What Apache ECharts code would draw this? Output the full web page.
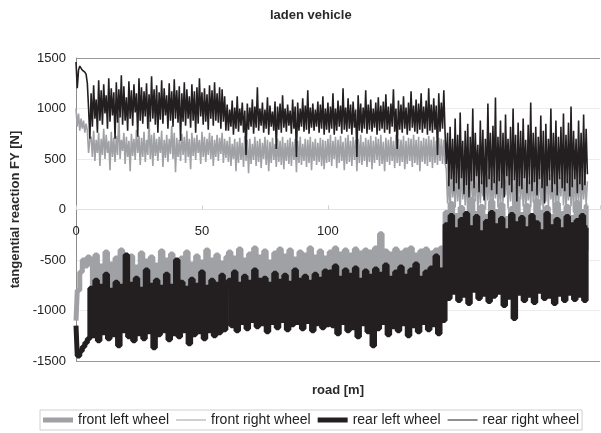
<!DOCTYPE html>
<html>
<head>
<meta charset="utf-8">
<script src="https://cdn.jsdelivr.net/npm/echarts@6/dist/echarts.min.js"></script>
<style>html,body{margin:0;padding:0;background:#fff}#c{width:601px;height:433px}</style>
</head>
<body>
<div id="c"></div>
<script>
// sample spacing along the road [m]: left-wheel traces every 1 m, right-wheel traces every 0.5 m
var STEP_LEFT = 1;
var STEP_RIGHT = 0.5;
var seriesNames = ['front left wheel', 'front right wheel', 'rear left wheel', 'rear right wheel'];
var yTicks = [-1500, -1000, -500, 0, 500, 1000, 1500];
var xTicks = [0, 50, 100, 150];

var frontLeft = [
-1100,-800,-620,-500,-560,-470,
-520,-900,-450,-880,-560,-920,-420,-870,-540,-900,
-480,-860,-400,-930,-530,-880,-460,-910,-570,-870,
-430,-900,-510,-850,-470,-920,-550,-880,-410,-900,
-500,-870,-440,-930,-560,-860,-480,-900,-420,-880,
-540,-910,-460,-870,-520,-900,-400,-860,-500,-920,
-450,-880,-530,-900,-470,
-420,-820,-480,-800,-390,-840,-500,-810,-440,-830,
-380,-800,-470,-850,-410,-820,-520,-800,-430,-840,
-390,-810,-460,-830,-400,-800,-490,-850,-420,-810,
-450,-830,-380,-800,-470,-840,-410,-820,-480,-800,
-420,-800,-380,-830,-440,-790,-400,-820,-450,-800,
-390,-810,-430,-840,-400,-800,-420,-820,-380,-790,
-240,-830,-410,-800,-440,-820,-390,-810,-430,-800,
-400,-840,-380,-790,-450,-820,-410,-800,-390,-830,
-430,-810,-400,-820,-380,-800,
-30,-400,60,-380,-60,-420,20,-390,-80,-410,
100,-380,-40,-400,30,-420,-70,-390,80,-400,
-20,-410,50,-380,-90,-400,10,-420,120,-390,
-50,-400,40,-410,-60,-380,90,-400,-30,-420,
20,-390,-70,-400,60,-410,-40,-380,30,-400,
-80,-420,70,-390,-20,-400,40
];

var rearLeft = [
-1150,-1450,-1400,-1360,-1320,-1280,
-780,-1250,-700,-1300,-760,-1220,-640,-1280,-800,-1240,
-720,-1350,-760,-1200,-450,-1260,-740,-1300,-680,-1230,
-790,-1280,-600,-1210,-750,-1370,-700,-1240,-770,-1200,
-640,-1290,-760,-1230,-500,-1260,-720,-1200,-780,-1330,
-690,-1240,-750,-1210,-620,-1280,-770,-1200,-700,-1250,
-740,-1220,-650,-1190,-760,
-700,-1150,-620,-1200,-740,-1120,-660,-1180,-720,-1100,
-600,-1160,-700,-1130,-680,-1210,-740,-1120,-630,-1170,
-710,-1100,-650,-1190,-730,-1140,-600,-1120,-700,-1180,
-660,-1110,-720,-1200,-640,-1130,-690,-1170,-610,-1140,
-620,-1150,-560,-1230,-680,-1120,-600,-1200,-650,-1170,
-580,-1260,-700,-1130,-610,-1210,-660,-1350,-590,-1180,
-640,-1120,-550,-1240,-680,-1160,-620,-1200,-570,-1130,
-660,-1250,-600,-1150,-540,-1210,-680,-1120,-620,-1190,
-580,-1140,-460,-1230,-600,-1100,
-150,-880,-60,-820,-200,-900,-100,-850,-40,-930,
-180,-800,-70,-880,-230,-840,-120,-910,-30,-860,
-160,-820,-90,-950,-210,-870,-50,-1080,-140,-830,
-80,-900,-190,-850,-60,-920,-130,-810,-220,-880,
-40,-860,-170,-930,-100,-840,-200,-900,-70,-830,
-150,-890,-110,-850,-60,-900,-180
];

var frontRight = [
1000,820,950,780,900,800,880,760,850,780,560,700,
720,520,780,480,690,560,760,430,700,540,
800,500,740,560,680,390,770,520,710,470,
730,540,950,500,690,580,760,450,720,520,
680,380,750,530,700,490,790,560,730,440,
710,520,770,470,690,540,880,500,740,430,
760,530,700,480,720,560,780,420,690,510,
740,470,700,550,830,500,760,370,710,520,
690,480,750,540,720,460,780,520,700,400,
760,530,710,490,740,560,690,450,770,520,
720,470,700,540,760,500,730,430,690,520,
740,480,710,550,760,460,700,510,
680,470,720,430,650,500,700,380,670,460,
710,490,660,420,730,480,690,360,700,450,
650,490,720,430,680,470,700,410,660,500,
720,440,690,380,670,460,710,490,650,420,
700,470,680,440,720,400,660,480,690,450,
710,430,670,490,700,370,680,460,720,440,
650,480,700,420,690,460,720,390,670,480,
700,440,660,470,710,430,690,400,680,460,
700,470,740,430,680,500,720,410,690,460,
730,480,670,390,710,450,740,470,680,430,
720,490,690,380,700,460,740,440,670,480,
710,420,690,470,730,400,680,460,720,490,
700,430,740,450,670,380,710,470,690,440,
720,480,680,410,740,460,700,430,690,470,
730,400,680,450,710,480,700,420,740,460,
690,440,720,380,680,470,710,450,700,430,
730,470,690,410,720,460,680,440,710,480,
700,450,690,460,
400,60,350,-40,420,120,300,20,380,80,
330,-20,450,100,280,40,390,-60,360,120,
420,10,310,80,460,-30,350,60,290,130,
400,0,340,90,430,-50,370,40,300,110,
440,20,360,-20,390,70,320,140,410,10,
350,80,470,-40,300,60,380,0,420,100,
330,30,400,-60,360,90,290,20,440,70,
380,-10,340,110,410,40,300,-30,370,80,
430,20,350,100,290,-40,400,60,360,10,
320,130,450,40,380,-20,310,90,420,30,
360,-30,390,80,300,50,440,0,350,100,
330,60,280
];

var rearRight = [
1460,1200,1380,1420,1400,1380,1370,1360,1340,1250,1000,700,
1150,820,1230,900,1090,760,1280,880,1180,840,
1240,950,1130,800,1300,870,1200,930,1160,700,
1260,860,1190,910,1330,840,1220,880,1110,780,
1270,900,1180,830,1240,960,1150,720,1300,880,
1210,850,1170,920,1250,800,1140,870,1320,900,
1190,840,1230,760,1160,890,1280,850,1200,930,
1130,800,1250,880,1170,820,1290,900,1180,860,
1220,680,1150,870,1260,830,1190,900,1120,810,
1240,880,1170,760,1210,850,1300,920,1160,840,
1200,870,1140,790,1230,900,1180,830,1260,880,
1150,860,1210,800,1190,870,1120,780,
1040,780,990,820,1080,740,1010,800,1120,770,
1000,830,1060,760,980,540,1050,790,1010,820,
1090,750,1020,810,1210,780,1000,830,1060,760,
990,800,1110,740,1030,820,970,780,1070,600,
1020,790,1050,760,1130,810,1000,770,1040,830,
980,750,1090,800,1020,520,1060,780,1000,820,
1100,770,1030,790,1180,750,1010,810,1050,780,
990,820,1070,760,1040,800,1120,740,1000,790,
1060,760,1020,800,1150,740,1000,780,1080,820,
1030,750,1200,790,1010,770,1100,800,1040,740,
1070,810,990,520,1130,780,1050,760,1010,800,
1180,750,1040,790,1090,770,1000,810,1060,740,
1110,780,1030,800,1070,760,1140,790,1020,750,
1050,820,1190,770,1000,600,1080,790,1040,760,
1120,800,1010,740,1060,780,1170,810,1030,770,
1090,750,1050,790,1150,760,1020,800,1080,740,
1200,780,1040,760,1100,790,1030,540,1150,770,
1060,800,1180,760,
450,760,230,820,300,700,180,900,260,740,
200,960,310,680,150,780,240,850,120,720,
280,1000,210,760,330,640,170,880,250,790,
90,700,220,1050,300,760,190,830,260,1110,
150,720,280,880,210,760,120,940,330,700,
240,820,170,1000,290,740,80,860,230,780,
200,900,310,690,160,840,250,1060,180,760,
270,820,140,720,300,930,210,780,60,850,
230,700,290,1000,170,760,250,880,140,720,
300,820,210,950,180,740,260,860,130,1020,
220,780,300,700,160,880,250,760,190,940,
240,800,350
];

function pairs(arr, step) {
  return arr.map(function (v, i) { return [i * step, v]; });
}

var FONT = "'Liberation Sans', Arial, sans-serif";
var BLACK = '#231f20';
var GRAY = '#a0a1a5';
var THICK_ICON = 'path://M0,0 H30 V5 H0 Z';
var THIN_ICON = 'path://M0,0 H30 V1 H0 Z';

var chart = echarts.init(document.getElementById('c'), null, { renderer: 'canvas' });
chart.setOption({
  animation: false,
  backgroundColor: '#fff',
  textStyle: { fontFamily: FONT },
  title: {
    text: 'laden vehicle',
    left: 270, top: 9, padding: 0,
    textStyle: { fontSize: 13, fontWeight: 'bold', color: '#2a2a2a', fontFamily: FONT }
  },
  grid: { left: 76, top: 58, width: 524, height: 303, containLabel: false, outerBoundsMode: 'none' },
  legend: {
    data: [
      { name: seriesNames[0], icon: THICK_ICON },
      { name: seriesNames[1], icon: THIN_ICON },
      { name: seriesNames[2], icon: THICK_ICON },
      { name: seriesNames[3], icon: THIN_ICON }
    ],
    left: 40, top: 410,
    itemWidth: 30, itemHeight: 14, itemGap: 7,
    padding: [3, 3],
    borderColor: '#d0d0d0', borderWidth: 1,
    textStyle: { fontSize: 14, color: '#222', fontFamily: FONT }
  },
  xAxis: {
    type: 'value', min: 0, max: 208, interval: 50,
    offset: -151.5,
    name: 'road [m]', nameLocation: 'middle', nameGap: 174,
    nameTextStyle: { fontSize: 13, fontWeight: 'bold', color: '#2a2a2a', fontFamily: FONT },
    axisLine: { show: true, onZero: false, lineStyle: { color: '#e2e2e2', width: 1 } },
    axisTick: { show: true, inside: true, length: 4, lineStyle: { color: '#cfcfcf' } },
    axisLabel: {
      margin: 15, fontSize: 13, color: '#222', fontFamily: FONT,
      customValues: xTicks
    },
    splitLine: { show: false }
  },
  yAxis: {
    type: 'value', min: -1500, max: 1500, interval: 500,
    name: 'tangential reaction FY [N]', nameLocation: 'middle', nameGap: 48,
    nameTextStyle: { fontSize: 13, fontWeight: 'bold', color: '#2a2a2a', fontFamily: FONT },
    axisLine: { show: true, lineStyle: { color: '#8c8c8c', width: 1 } },
    axisTick: { show: false },
    axisLabel: { margin: 10, fontSize: 13, color: '#222', fontFamily: FONT,
      formatter: function (v) { return String(v); } },
    splitLine: { show: true, lineStyle: { color: ['#9a9a9a', '#ececec', '#ececec', '#ececec', '#ececec', '#ececec', '#9a9a9a'], width: 1 } }
  },
  series: [
    { name: seriesNames[0], type: 'line', data: pairs(frontLeft, STEP_LEFT), symbol: 'none', step: 'middle',
      lineStyle: { color: GRAY, width: 5 }, itemStyle: { color: GRAY } },
    { name: seriesNames[1], type: 'line', data: pairs(frontRight, STEP_RIGHT), symbol: 'none',
      lineStyle: { color: GRAY, width: 1.6 }, itemStyle: { color: GRAY } },
    { name: seriesNames[2], type: 'line', data: pairs(rearLeft, STEP_LEFT), symbol: 'none', step: 'middle',
      lineStyle: { color: BLACK, width: 5 }, itemStyle: { color: BLACK } },
    { name: seriesNames[3], type: 'line', data: pairs(rearRight, STEP_RIGHT), symbol: 'none',
      lineStyle: { color: BLACK, width: 1.6 }, itemStyle: { color: BLACK } }
  ]
});
</script>
</body>
</html>
